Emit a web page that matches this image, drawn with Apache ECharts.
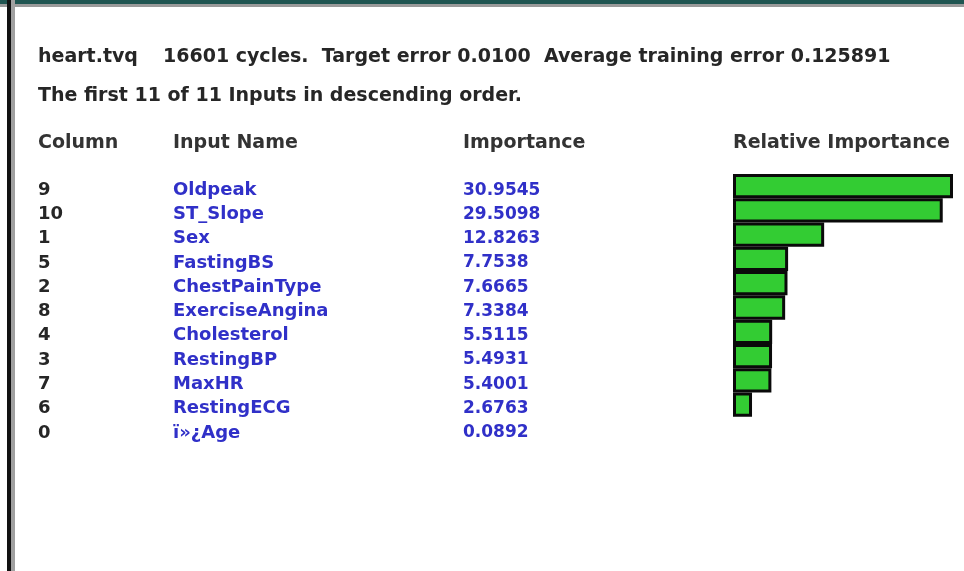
<!DOCTYPE html>
<html>
<head>
<meta charset="utf-8">
<script src="https://cdn.jsdelivr.net/npm/echarts@6/dist/echarts.min.js"></script>
<style>
  html, body { margin: 0; padding: 0; background: #fff; }
  #chart { width: 964px; height: 571px; }
</style>
</head>
<body>
<div id="chart"></div>
<script>
// table rows, already sorted by importance
var columns = ["9", "10", "1", "5", "2", "8", "4", "3", "7", "6", "0"];
var inputNames = ["Oldpeak", "ST_Slope", "Sex", "FastingBS", "ChestPainType", "ExerciseAngina",
  "Cholesterol", "RestingBP", "MaxHR", "RestingECG", "ï»¿Age"];
var importance = [30.9545, 29.5098, 12.8263, 7.7538, 7.6665, 7.3384, 5.5115, 5.4931, 5.4001, 2.6763, 0.0892];
var headers = ["Column", "Input Name", "Importance", "Relative Importance"];

var font = "DejaVu Sans";
var blue = "#3030c8";
var dark = "#262626";

var chart = echarts.init(document.getElementById("chart"));

// text columns sit on their own grid, a few pixels lower than the bars
function rowAxis(margin, labels, color, size) {
  return {
    type: "category",
    gridIndex: 1,
    inverse: true,
    position: "left",
    data: inputNames,
    axisLine: { show: false },
    axisTick: { show: false },
    splitLine: { show: false },
    axisLabel: {
      margin: margin,
      align: "left",
      color: color,
      fontFamily: font,
      fontWeight: "bold",
      fontSize: size,
      formatter: function (v, i) { return labels[i]; }
    }
  };
}

function text(x, y, str, color) {
  return {
    type: "text",
    x: x,
    y: y,
    style: {
      text: str,
      fill: color,
      fontFamily: font,
      fontWeight: "bold",
      fontSize: 19,
      verticalAlign: "middle"
    }
  };
}

chart.setOption({
  animation: false,
  backgroundColor: "#fff",
  grid: [
    { left: 733, top: 174, width: 220, height: 267 },
    { left: 733, top: 178, width: 220, height: 267 }
  ],
  xAxis: [
    { type: "value", min: 0, max: Math.max.apply(null, importance), show: false },
    { type: "value", gridIndex: 1, show: false }
  ],
  yAxis: [
    {
      type: "category",
      inverse: true,
      data: inputNames,
      show: false
    },
    rowAxis(560, inputNames, blue, 18),
    rowAxis(695, columns, dark, 18),
    rowAxis(270, importance.map(function (v) { return v.toFixed(4); }), blue, 17)
  ],
  series: [
    {
      type: "bar",
      barCategoryGap: "0%",
      // bars under half a unit are not drawn in the original
      data: importance.map(function (v) {
        return v < 0.5 ? { value: v, itemStyle: { opacity: 0 } } : v;
      }),
      itemStyle: { color: "#33cc33", borderColor: "#0a0a0a", borderWidth: 3 }
    }
  ],
  graphic: [
    // window frame
    { type: "rect", shape: { x: 0, y: 0, width: 964, height: 4 }, style: { fill: "#1f5551" } },
    { type: "rect", shape: { x: 0, y: 4, width: 964, height: 3 }, style: { fill: "#9a9a9a" } },
    { type: "rect", shape: { x: 7, y: 0, width: 4, height: 571 }, style: { fill: "#111" } },
    { type: "rect", shape: { x: 11, y: 0, width: 4, height: 571 }, style: { fill: "#a0a0a0" } },
    text(38, 57, "heart.tvq", dark),
    text(163, 57, "16601 cycles.  Target error 0.0100  Average training error 0.125891", dark),
    text(38, 96, "The first 11 of 11 Inputs in descending order.", dark),
    text(38, 143, headers[0], "#333"),
    text(173, 143, headers[1], "#333"),
    text(463, 143, headers[2], "#333"),
    text(733, 143, headers[3], "#333")
  ]
});
</script>
</body>
</html>
